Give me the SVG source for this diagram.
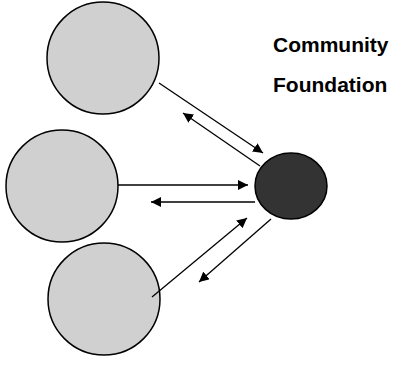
<svg xmlns="http://www.w3.org/2000/svg" width="420" height="381" viewBox="0 0 420 381">
<style>
.sat{fill:#d0d0d0;stroke:#000;stroke-width:1.5}
.hub{fill:#333;stroke:#000;stroke-width:1.5}
.c{stroke:#000;stroke-width:1.3;fill:none;marker-end:url(#ah)}
text{font-family:"Liberation Sans",Arial,sans-serif;font-weight:bold;font-size:21px;fill:#000}
</style>
<defs>
<marker id="ah" viewBox="0 0 10 10" refX="10" refY="5" markerWidth="10" markerHeight="10" markerUnits="userSpaceOnUse" orient="auto">
<path d="M0,0 L10,5 L0,10 z" fill="#000"/>
</marker>
</defs>
<g id="node-top"><circle class="sat" cx="103" cy="58" r="56"/></g>
<g id="node-middle"><circle class="sat" cx="62" cy="186" r="56"/></g>
<g id="node-bottom"><circle class="sat" cx="104" cy="299" r="56"/></g>
<g id="node-hub"><ellipse class="hub" cx="291" cy="186" rx="36" ry="33"/></g>
<g id="labels">
<text x="273" y="52">Community</text>
<text x="273" y="92">Foundation</text>
</g>
<g id="connectors">
<line class="c" x1="159" y1="83" x2="263" y2="153"/>
<line class="c" x1="260" y1="166" x2="183" y2="113"/>
<line class="c" x1="118" y1="185" x2="248" y2="185"/>
<line class="c" x1="255" y1="202" x2="151" y2="202"/>
<line class="c" x1="152" y1="297" x2="247" y2="218"/>
<line class="c" x1="271" y1="219" x2="199" y2="282"/>
</g>
</svg>
